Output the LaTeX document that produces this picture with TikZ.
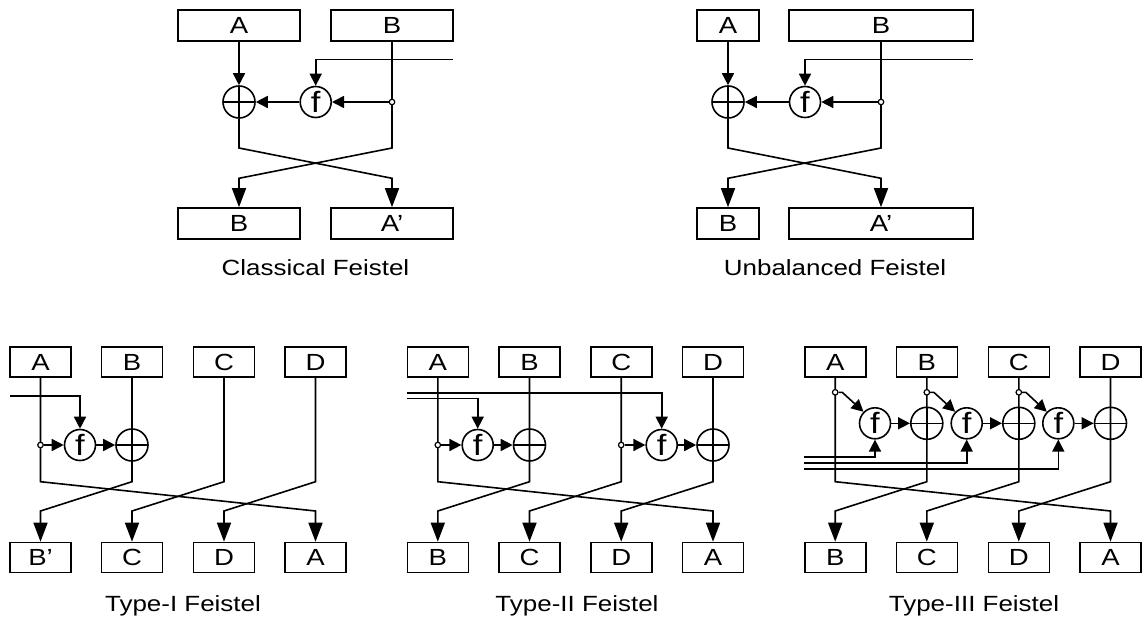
\documentclass[tikz,border=0pt]{standalone}
\usepackage{fontspec}
\setmainfont{Liberation Sans}[FakeStretch=1.18]
\usetikzlibrary{arrows.meta}
\begin{document}
\begin{tikzpicture}[x=0.75pt,y=-0.75pt,line width=1.2pt,
  box/.style={draw,minimum height=31*0.75pt,inner sep=0pt,font=\fontsize{17.5}{19}\selectfont,text height=12.5pt,text depth=0pt},
  sbox/.style={box,minimum height=30*0.75pt,minimum width=61*0.75pt},
  xor/.style={draw,circle,minimum size=32*0.75pt,inner sep=0pt,
    path picture={\draw (path picture bounding box.north) -- (path picture bounding box.south)
      (path picture bounding box.west) -- (path picture bounding box.east);}},
  fn/.style={draw,circle,minimum size=31*0.75pt,inner sep=0pt,font=\fontsize{22}{22}\selectfont},
  dot/.style={draw,circle,fill=white,minimum size=5.5*0.75pt,inner sep=0pt,line width=0.9pt},
  sarr/.style={-{Triangle[length=12*0.75pt,width=12*0.75pt]}},
  barr/.style={-{Triangle[length=19*0.75pt,width=14*0.75pt]}},
  captxt/.style={anchor=base,font=\fontsize{16.5}{19}\selectfont,inner sep=0pt}
]
\useasboundingbox (0,0) rectangle (1142,621);

% ---------- Classical Feistel ----------
\node[box,minimum width=122*0.75pt] (cA) at (239,25.5) {A};
\node[box,minimum width=122*0.75pt] (cB) at (392,25.5) {B};
\node[box,minimum width=122*0.75pt] (cB2) at (239,223.5) {B};
\node[box,minimum width=122*0.75pt] (cA2) at (392,223.5) {A’};
\node[xor] (cx) at (239,102) {};
\node[fn] (cf) at (315.7,102) {f};
\coordinate (ck) at (453,59.3);
\draw[sarr] (cA.south) -- (cx.north);
\draw (cB.south) -- (392,102);
\draw[barr] (cx.south) -- (239,148) -- (392,178.3) -- (cA2.north);
\draw[barr] (392,102) -- (392,148) -- (239,178.3) -- (cB2.north);
\node[dot] (cd) at (392,102) {};
\draw[sarr] (ck) -| (cf);
\draw[sarr] (cd) -- (cf);
\draw[sarr] (cf) -- (cx);
\node[captxt] (ct) at (315.5,275) {Classical Feistel};

% ---------- Unbalanced Feistel ----------
\node[box,minimum width=62*0.75pt] (uA) at (728,25.5) {A};
\node[box,minimum width=184*0.75pt] (uB) at (881,25.5) {B};
\node[box,minimum width=62*0.75pt] (uB2) at (728,223.5) {B};
\node[box,minimum width=184*0.75pt] (uA2) at (881,223.5) {A’};
\node[xor] (ux) at (728,102) {};
\node[fn] (uf) at (805,102) {f};
\coordinate (uk) at (973,59.3);
\draw[sarr] (uA.south) -- (ux.north);
\draw (uB.south) -- (881,102);
\draw[barr] (ux.south) -- (728,148) -- (881,178.3) -- (uA2.north);
\draw[barr] (881,102) -- (881,148) -- (728,178.3) -- (uB2.north);
\node[dot] (ud) at (881,102) {};
\draw[sarr] (uk) -| (uf);
\draw[sarr] (ud) -- (uf);
\draw[sarr] (uf) -- (ux);
\node[captxt] (ut) at (835,275) {Unbalanced Feistel};

% ---------- Type-I Feistel ----------
\node[sbox] (aA) at (40.5,362) {A};
\node[sbox] (aB) at (132,362) {B};
\node[sbox] (aC) at (224,362) {C};
\node[sbox] (aD) at (315.5,362) {D};
\node[sbox] (aB2) at (40.5,557.5) {B’};
\node[sbox] (aC2) at (132,557.5) {C};
\node[sbox] (aD2) at (224,557.5) {D};
\node[sbox] (aA2) at (315.5,557.5) {A};
\node[fn] (af) at (80,445) {f};
\node[xor] (ax) at (132,445) {};
\coordinate (ak) at (10,395.7);
\draw[barr] (aA.south) -- (40.5,481.7) -- (315.5,511) -- (aA2.north);
\draw[barr] (aB.south) -- (132,481.7) -- (40.5,511) -- (aB2.north);
\draw[barr] (aC.south) -- (224,481.7) -- (132,511) -- (aC2.north);
\draw[barr] (aD.south) -- (315.5,481.7) -- (224,511) -- (aD2.north);
\node[dot] (ad) at (40.5,445) {};
\draw[sarr] (ak) -| (af);
\draw[sarr] (ad) -- (af);
\draw[sarr] (af) -- (ax);
\node[captxt] (at) at (183,611) {Type-I Feistel};

% ---------- Type-II Feistel ----------
\node[sbox] (bA) at (437.8,362) {A};
\node[sbox] (bB) at (529.5,362) {B};
\node[sbox] (bC) at (621.2,362) {C};
\node[sbox] (bD) at (713,362) {D};
\node[sbox] (bB2) at (437.8,557.5) {B};
\node[sbox] (bC2) at (529.5,557.5) {C};
\node[sbox] (bD2) at (621.2,557.5) {D};
\node[sbox] (bA2) at (713,557.5) {A};
\node[fn] (bf1) at (477.7,445) {f};
\node[xor] (bx1) at (529.5,445) {};
\node[fn] (bf2) at (661.7,445) {f};
\node[xor] (bx2) at (713,445) {};
\coordinate (bk1) at (406.7,398.3);
\coordinate (bk2) at (406.7,392.7);
\draw[barr] (bA.south) -- (437.8,481.7) -- (713,511) -- (bA2.north);
\draw[barr] (bB.south) -- (529.5,481.7) -- (437.8,511) -- (bB2.north);
\draw[barr] (bC.south) -- (621.2,481.7) -- (529.5,511) -- (bC2.north);
\draw[barr] (bD.south) -- (713,481.7) -- (621.2,511) -- (bD2.north);
\node[dot] (bd1) at (437.8,445) {};
\node[dot] (bd2) at (621.2,445) {};
\draw[sarr] (bk2) -| (bf2);
\draw[sarr] (bk1) -| (bf1);
\draw[sarr] (bd1) -- (bf1);
\draw[sarr] (bf1) -- (bx1);
\draw[sarr] (bd2) -- (bf2);
\draw[sarr] (bf2) -- (bx2);
\node[captxt] (bt) at (577,611) {Type-II Feistel};

% ---------- Type-III Feistel ----------
\node[sbox] (eA) at (835.2,362) {A};
\node[sbox] (eB) at (926.8,362) {B};
\node[sbox] (eC) at (1018.8,362) {C};
\node[sbox] (eD) at (1110.5,362) {D};
\node[sbox] (eB2) at (835.2,557.5) {B};
\node[sbox] (eC2) at (926.8,557.5) {C};
\node[sbox] (eD2) at (1018.8,557.5) {D};
\node[sbox] (eA2) at (1110.5,557.5) {A};
\node[fn] (ef1) at (875,423.3) {f};
\node[xor] (ex1) at (926.8,423.3) {};
\node[fn] (ef2) at (966.7,423.3) {f};
\node[xor] (ex2) at (1018.8,423.3) {};
\node[fn] (ef3) at (1058.3,423.3) {f};
\node[xor] (ex3) at (1110.5,423.3) {};
\coordinate (ek1) at (804.3,456.7);
\coordinate (ek2) at (804.3,462.7);
\coordinate (ek3) at (804.3,468.7);
\draw[barr] (eA.south) -- (835.2,481.7) -- (1110.5,511) -- (eA2.north);
\draw[barr] (eB.south) -- (926.8,481.7) -- (835.2,511) -- (eB2.north);
\draw[barr] (eC.south) -- (1018.8,481.7) -- (926.8,511) -- (eC2.north);
\draw[barr] (eD.south) -- (1110.5,481.7) -- (1018.8,511) -- (eD2.north);
\draw[sarr] (ek1) -| (ef1);
\draw[sarr] (ek2) -| (ef2);
\draw[sarr] (ek3) -| (ef3);
\node[dot] (ed1) at (835.2,392.3) {};
\node[dot] (ed2) at (926.8,392.3) {};
\node[dot] (ed3) at (1018.8,392.3) {};
\draw[sarr] (ed1) -- ++(7,0) -- (ef1.north west);
\draw[sarr] (ed2) -- ++(7,0) -- (ef2.north west);
\draw[sarr] (ed3) -- ++(7,0) -- (ef3.north west);
\draw[sarr] (ef1) -- (ex1);
\draw[sarr] (ef2) -- (ex2);
\draw[sarr] (ef3) -- (ex3);
\node[captxt] (et) at (974,611) {Type-III Feistel};
\end{tikzpicture}
\end{document}
